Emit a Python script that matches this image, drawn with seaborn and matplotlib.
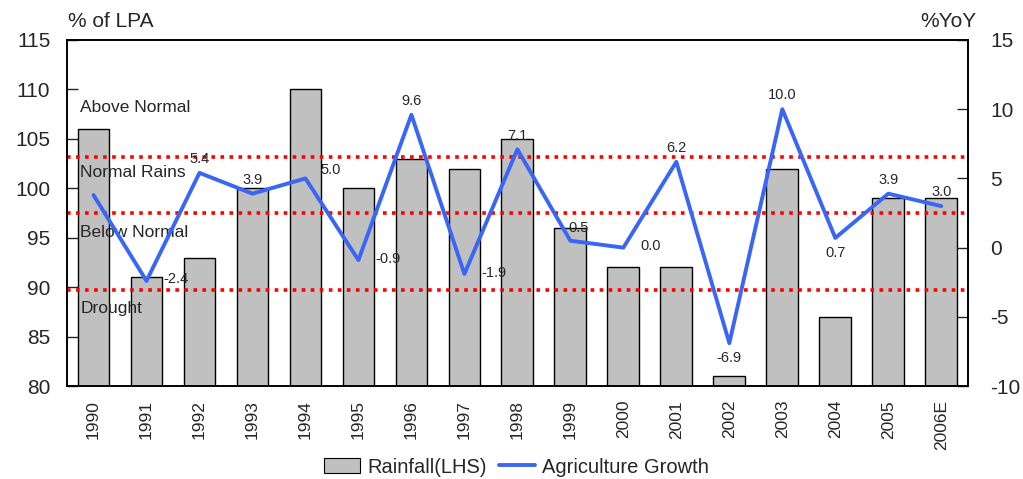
import numpy as np
import pandas as pd
import matplotlib
matplotlib.use("Agg")
import matplotlib.pyplot as plt
from matplotlib.patches import Patch
from matplotlib.lines import Line2D
import seaborn as sns

years = ["1990", "1991", "1992", "1993", "1994", "1995", "1996", "1997", "1998",
         "1999", "2000", "2001", "2002", "2003", "2004", "2005", "2006E"]
rainfall = [106, 91, 93, 100, 110, 100, 103, 102, 105, 96, 92, 92, 81, 102, 87, 99, 99]
agri_growth = [3.8, -2.4, 5.4, 3.9, 5.0, -0.9, 9.6, -1.9, 7.1, 0.5, 0.0, 6.2, -6.9, 10.0, 0.7, 3.9, 3.0]
show_label = [False] + [True] * 16
# where each growth label sits relative to its point
label_pos = ["", "right", "above", "above", "upright", "right", "above", "right", "above",
             "aboveright", "right", "above", "below", "above", "below", "above", "above"]

band_levels = [103.2, 97.5, 89.7]
band_names = ["Above Normal", "Normal Rains", "Below Normal", "Drought"]
band_text_y = [108.2, 101.6, 95.5, 87.8]

sns.set_style("white")
plt.rcParams["font.family"] = ["Liberation Sans", "DejaVu Sans"]
plt.rcParams["axes.unicode_minus"] = False

fig = plt.figure(figsize=(10.23, 4.79), dpi=100)
ax = fig.add_axes([0.0655, 0.194, 0.8805, 0.7225])

df = pd.DataFrame({"year": years, "rain": rainfall})
sns.barplot(data=df, x="year", y="rain", ax=ax, color="#c0c0c0", width=0.6,
            edgecolor="black", linewidth=1.0, saturation=1)
ax.set_ylim(80, 115)
ax.set_xlim(-0.5, len(years) - 0.5)
ax.set_yticks(np.arange(80, 116, 5))
ax.set_xlabel("")
ax.set_ylabel("")
ax.tick_params(axis="y", direction="in", length=8, labelsize=15, width=1, left=True, pad=12)
ax.tick_params(axis="x", length=0, labelsize=12.5, pad=10)
for lbl in ax.get_xticklabels():
    lbl.set_rotation(90)

for lvl in band_levels:
    ax.axhline(lvl, color="red", linestyle=(0, (1, 1.5)), linewidth=2.6, zorder=3)
for name, ty in zip(band_names, band_text_y):
    ax.text(-0.25, ty, name, fontsize=12.5, ha="left", va="center", zorder=5)

ax2 = ax.twinx()
sns.lineplot(x=np.arange(len(years)), y=agri_growth, ax=ax2, color="#3a66f5",
             linewidth=2.8, zorder=4)
ax2.set_ylim(-10, 15)
ax2.set_yticks(np.arange(-10, 16, 5))
ax2.tick_params(axis="y", direction="in", length=8, labelsize=15, width=1, right=True, pad=16)

offsets = {"above": (0, 1.0, "center"), "right": (0.32, 0.1, "left"),
           "below": (0, -1.1, "center"), "upright": (0.28, 0.6, "left"),
           "aboveright": (0.15, 0.95, "center")}
for i, (v, pos, show) in enumerate(zip(agri_growth, label_pos, show_label)):
    if not show:
        continue
    dx, dy, ha = offsets[pos]
    ax2.text(i + dx, v + dy, f"{v:.1f}", fontsize=10.5, ha=ha, va="center", zorder=6)

for a in (ax, ax2):
    for s in a.spines.values():
        s.set_visible(True)
        s.set_color("black")
        s.set_linewidth(1.2)

fig.text(0.066, 0.955, "% of LPA", fontsize=15, ha="left", va="center")
fig.text(0.954, 0.955, "%YoY", fontsize=15, ha="right", va="center")

handles = [Patch(facecolor="#c0c0c0", edgecolor="black", linewidth=0.8),
           Line2D([0], [0], color="#3a66f5", linewidth=2.8)]
fig.legend(handles, ["Rainfall(LHS)", "Agriculture Growth"], loc="center",
           bbox_to_anchor=(0.505, 0.025), ncol=2, frameon=False, fontsize=14.5,
           handlelength=1.8, handletextpad=0.35, columnspacing=0.6)

fig.savefig("out.png", dpi=100)
